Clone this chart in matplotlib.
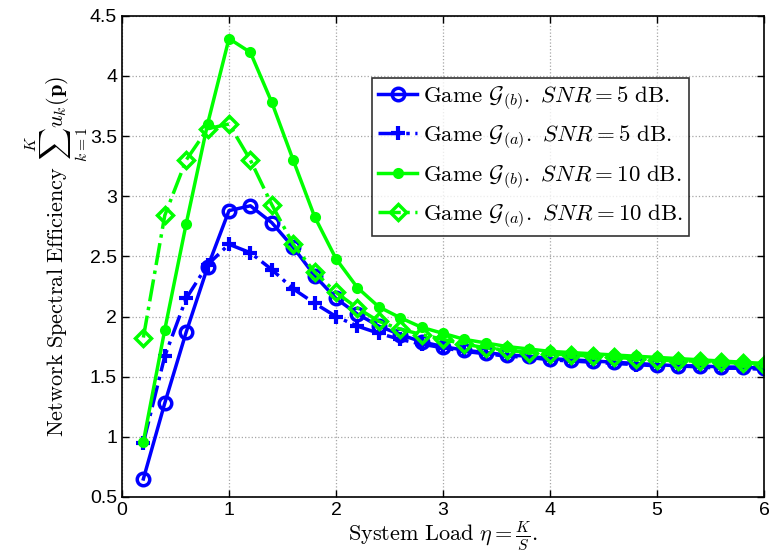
import matplotlib
matplotlib.use("Agg")
import matplotlib.pyplot as plt
import numpy as np

plt.rcParams['mathtext.fontset'] = 'cm'
plt.rcParams['font.family'] = 'Liberation Sans'

# system load eta = K/S
eta = np.round(np.arange(1, 31) * 0.2, 1)

gb_5 = [0.65, 1.28, 1.87, 2.41, 2.88, 2.92, 2.78, 2.575, 2.34, 2.15, 2.02, 1.92, 1.85, 1.79, 1.75,
        1.72, 1.70, 1.68, 1.67, 1.65, 1.64, 1.63, 1.62, 1.61, 1.60, 1.59, 1.59, 1.58, 1.58, 1.57]
ga_5 = [0.95, 1.67, 2.15, 2.43, 2.60, 2.53, 2.39, 2.23, 2.11, 2.00, 1.92, 1.86, 1.81, 1.77, 1.74,
        1.71, 1.69, 1.67, 1.66, 1.64, 1.63, 1.62, 1.61, 1.60, 1.59, 1.59, 1.58, 1.57, 1.57, 1.56]
gb_10 = [0.96, 1.89, 2.77, 3.60, 4.31, 4.195, 3.78, 3.30, 2.83, 2.48, 2.24, 2.08, 1.99, 1.91, 1.86,
         1.81, 1.78, 1.75, 1.73, 1.71, 1.70, 1.69, 1.68, 1.67, 1.66, 1.65, 1.64, 1.63, 1.62, 1.61]
ga_10 = [1.825, 2.84, 3.30, 3.56, 3.60, 3.30, 2.93, 2.60, 2.37, 2.20, 2.07, 1.96, 1.895, 1.85, 1.81,
         1.77, 1.74, 1.72, 1.70, 1.69, 1.68, 1.67, 1.66, 1.65, 1.64, 1.63, 1.63, 1.62, 1.61, 1.60]

labels = [r'$\mathrm{Game}\ \mathcal{G}_{(b)}.\ SNR = 5\ \mathrm{dB.}$',
          r'$\mathrm{Game}\ \mathcal{G}_{(a)}.\ SNR = 5\ \mathrm{dB.}$',
          r'$\mathrm{Game}\ \mathcal{G}_{(b)}.\ SNR = 10\ \mathrm{dB.}$',
          r'$\mathrm{Game}\ \mathcal{G}_{(a)}.\ SNR = 10\ \mathrm{dB.}$']

fig = plt.figure(figsize=(7.69, 5.53), dpi=100)
ax = fig.add_axes([0.1586, 0.1013, 0.835, 0.8703])

blue = (0, 0, 1)
green = (0, 1, 0)
ax.plot(eta, gb_5, '-', color=blue, lw=2.5, marker='o', ms=9, mfc='none', mew=2.5, label=labels[0])
ax.plot(eta, ga_5, '-.', color=blue, lw=2.5, marker='+', ms=10, mew=3, label=labels[1])
ax.plot(eta, gb_10, '-', color=green, lw=2.5, marker='o', ms=6, mfc=green, mew=2, label=labels[2])
ax.plot(eta, ga_10, '-.', color=green, lw=2.5, marker='D', ms=8, mfc='none', mew=2.5, label=labels[3])

ax.set_xlim(0, 6)
ax.set_ylim(0.5, 4.5)
ax.set_xticks(range(0, 7))
ax.set_yticks(np.arange(0.5, 4.51, 0.5))
ax.set_yticklabels(['0.5', '1', '1.5', '2', '2.5', '3', '3.5', '4', '4.5'])
ax.tick_params(direction='in', labelsize=14, width=1, length=5, top=True, right=True)
for s in ax.spines.values():
    s.set_linewidth(1.2)
ax.grid(True, linestyle=':', color='0.65', lw=0.9)

ax.set_xlabel(r'$\mathrm{System\ Load}\ \eta = \frac{K}{S}.$', fontsize=16, labelpad=0)
ax.set_ylabel(r'$\mathrm{Network\ Spectral\ Efficiency}\ \sum_{k=1}^{K} u_k(\mathbf{p})$',
              fontsize=16, labelpad=0)

leg = ax.legend(loc='upper left', bbox_to_anchor=(0.39, 0.87), fontsize=16.5, frameon=True,
                fancybox=False, edgecolor='k', handlelength=1.7, handletextpad=0.25,
                labelspacing=0.5, borderpad=0.25, borderaxespad=0)
leg.get_frame().set_linewidth(1.2)

fig.savefig('out.png', dpi=100)
